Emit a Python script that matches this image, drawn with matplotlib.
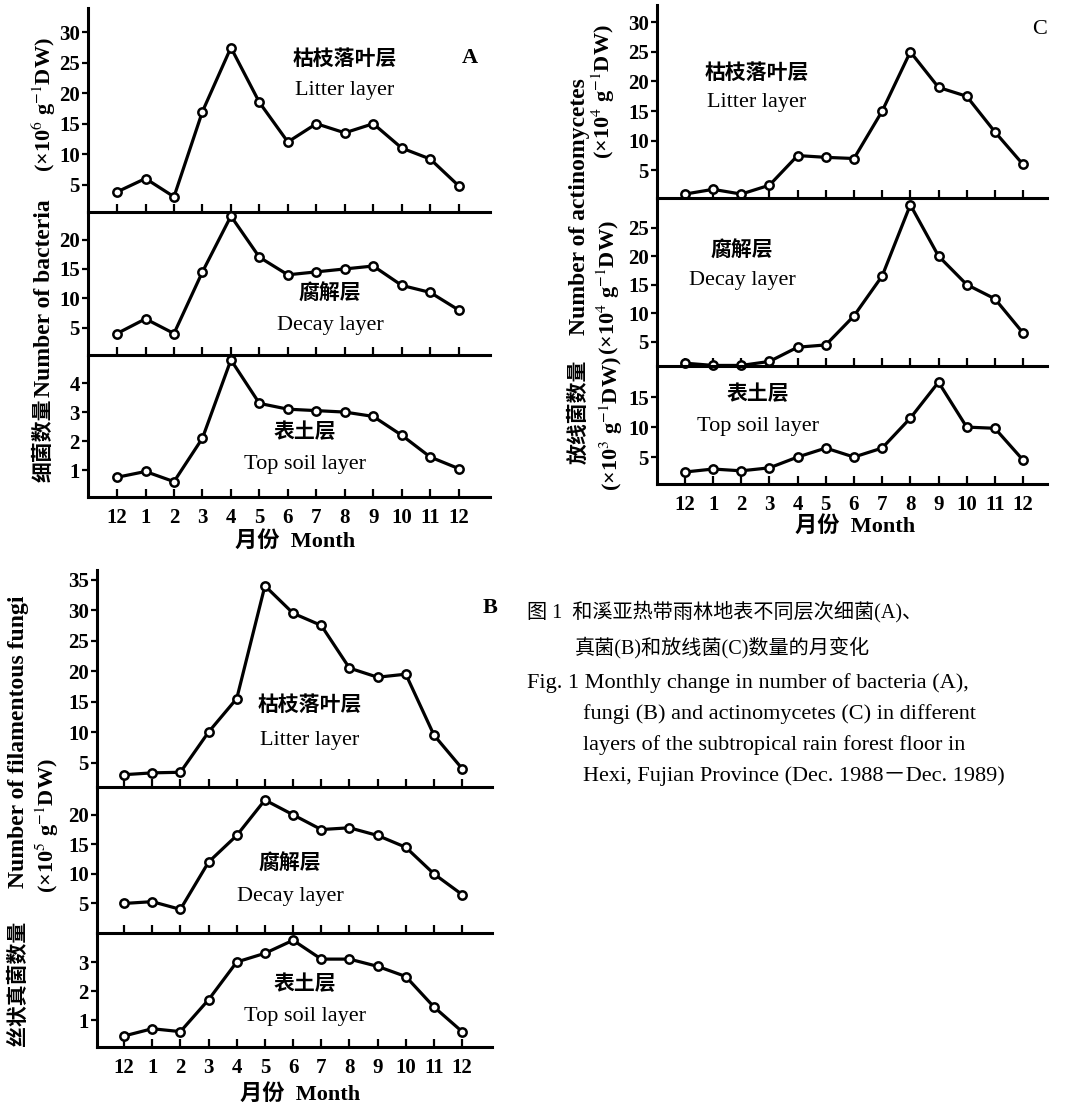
import numpy as np
import matplotlib
matplotlib.use("Agg")
import matplotlib.pyplot as plt

plt.rcParams['font.family'] = ['Liberation Serif', 'Noto Sans CJK SC', 'DejaVu Sans']
plt.rcParams['mathtext.fontset'] = 'stix'

# Data: 13 monthly samples, Dec 1988 - Dec 1989
months = ["12", "1", "2", "3", "4", "5", "6", "7", "8", "9", "10", "11", "12"]

# A: bacteria
bact_litter = [3.8, 6.0, 3.0, 17.0, 27.5, 18.5, 12.0, 15.0, 13.5, 15.0, 11.0, 9.2, 4.8]
bact_decay = [4.0, 6.5, 4.0, 14.5, 24.0, 17.0, 14.0, 14.5, 15.0, 15.5, 12.2, 11.0, 8.0]
bact_soil = [0.75, 0.95, 0.6, 2.1, 4.8, 3.3, 3.1, 3.05, 3.0, 2.85, 2.2, 1.45, 1.05]

# B: filamentous fungi
fungi_litter = [3.0, 3.3, 3.4, 10.0, 15.5, 34.0, 29.5, 27.5, 20.5, 19.0, 19.5, 9.5, 4.0]
fungi_decay = [5.0, 5.3, 4.0, 12.0, 16.5, 22.5, 20.0, 17.5, 17.8, 16.5, 14.5, 10.0, 6.5]
fungi_soil = [0.45, 0.7, 0.6, 1.7, 3.0, 3.3, 3.75, 3.1, 3.1, 2.85, 2.5, 1.45, 0.6]

# C: actinomycetes
actino_litter = [1.0, 1.8, 1.0, 2.5, 7.5, 7.2, 7.0, 15.0, 25.0, 19.0, 17.5, 11.5, 6.0]
actino_decay = [1.2, 0.8, 0.8, 1.5, 4.0, 4.4, 9.5, 16.5, 29.0, 20.0, 15.0, 12.5, 6.5]
actino_soil = [2.5, 3.0, 2.7, 3.2, 5.0, 6.5, 5.0, 6.5, 11.5, 17.5, 10.0, 9.8, 4.5]

W, H = 1086, 1107
fig = plt.figure(figsize=(W / 100, H / 100), dpi=100)
fig.patch.set_facecolor('white')


def px_axes(l, t, r, b):
    return fig.add_axes([l / W, 1 - b / H, (r - l) / W, (b - t) / H])


def px_text(x, y, s, **kw):
    kw.setdefault('ha', 'center')
    kw.setdefault('va', 'center')
    fig.text(x / W, 1 - y / H, s, **kw)


def layer(l, t, r, b, vals, xlim, ylim, yticks, bottom=False):
    ax = px_axes(l, t, r, b)
    x = np.arange(len(vals))
    ax.plot(x, vals, color='black', lw=2.3, marker='o', ms=6,
            mfc='white', mec='black', mew=1.8, clip_on=False)
    ax.set_xlim(*xlim)
    ax.set_ylim(*ylim)
    ax.set_yticks(yticks)
    ax.set_xticks(x)
    for s in ['top', 'right']:
        ax.spines[s].set_visible(False)
    for s in ['left', 'bottom']:
        ax.spines[s].set_linewidth(2.2)
    ax.tick_params(axis='x', direction='in', length=6, width=1.6, pad=8)
    ax.tick_params(axis='y', direction='out', length=4, width=1.6, pad=2)
    ax.set_yticklabels([str(v) for v in yticks], fontsize=15, fontweight='bold')
    if bottom:
        ax.set_xticklabels(months, fontsize=15, fontweight='bold')
    else:
        ax.set_xticklabels([])
    ax.patch.set_alpha(0)
    return ax


# ---- Panel A ----
xa = (-1.02, 13.1)
layer(88, 8, 490, 212, bact_litter, xa, (0.5, 34), [5, 10, 15, 20, 25, 30])
layer(88, 212, 490, 355, bact_decay, xa, (0.34, 24.7), [5, 10, 15, 20])
layer(88, 357, 490, 497, bact_soil, xa, (0.07, 4.9), [1, 2, 3, 4], bottom=True)

# ---- Panel C ----
xc = (-0.99, 12.85)
layer(657, 5, 1047, 198, actino_litter, xc, (0.34, 32.9), [5, 10, 15, 20, 25, 30])
layer(657, 198, 1047, 366, actino_decay, xc, (0.7, 30.2), [5, 10, 15, 20, 25])
layer(657, 366, 1047, 484, actino_soil, xc, (0.5, 20.2), [5, 10, 15], bottom=True)

# ---- Panel B ----
xb = (-0.96, 13.06)
layer(97, 570, 492, 787, fungi_litter, xb, (0.98, 36.6), [5, 10, 15, 20, 25, 30, 35])
layer(97, 787, 492, 933, fungi_decay, xb, (0.0, 24.7), [5, 10, 15, 20])
layer(97, 933, 492, 1047, fungi_soil, xb, (0.07, 4.0), [1, 2, 3], bottom=True)

cn = dict(fontsize=15, fontweight='bold')
en = dict(fontsize=16)

# layer names
for (x, y1, y2, c, e) in [
        (345, 60, 90, "枯枝落叶层", "Litter layer"),
        (330, 295, 325, "腐解层", "Decay layer"),
        (305, 433, 465, "表土层", "Top soil layer"),
        (757, 74, 103, "枯枝落叶层", "Litter layer"),
        (742, 252, 281, "腐解层", "Decay layer"),
        (758, 395, 427, "表土层", "Top soil layer"),
        (310, 706, 740, "枯枝落叶层", "Litter layer"),
        (290, 865, 897, "腐解层", "Decay layer"),
        (305, 985, 1017, "表土层", "Top soil layer")]:
    px_text(x, y1, c, **cn)
    px_text(x, y2, e, **en)

# panel letters
px_text(470, 58, "A", fontsize=16, fontweight='bold')
px_text(1040, 30, "C", fontsize=16)
px_text(490, 608, "B", fontsize=16, fontweight='bold')

# x labels
for (x, y) in [(295, 541), (855, 526), (300, 1094)]:
    px_text(x, y, "月份  Month", fontsize=16, fontweight='bold')

# y labels
yl = dict(fontsize=17, fontweight='bold', rotation=90)
yc = dict(fontsize=15, fontweight='bold', rotation=90)
yu = dict(fontsize=16, fontweight='bold', rotation=90)
# A
px_text(45, 440, "细菌数量", **yc)
px_text(45, 298, "Number of bacteria", **yl)
px_text(44, 105, "(×10$^{6}$ g$^{-1}$DW)", **yu)
# C
px_text(579, 412, "放线菌数量", **yc)
px_text(579, 207, "Number of actinomycetes", **yl)
px_text(603, 92, "(×10$^{4}$ g$^{-1}$DW)", **yu)
px_text(608, 288, "(×10$^{4}$ g$^{-1}$DW)", **yu)
px_text(611, 424, "(×10$^{3}$ g$^{-1}$DW)", **yu)
# B
px_text(19, 983, "丝状真菌数量", **yc)
px_text(19, 742, "Number of filamentous fungi", **yl)
px_text(47, 826, "(×10$^{5}$ g$^{-1}$DW)", **yu)

# caption
cap_cn = dict(fontsize=14.5, ha='left')
cap_en = dict(fontsize=16, ha='left')
px_text(527, 612, "图 1  和溪亚热带雨林地表不同层次细菌(A)、", **cap_cn)
px_text(575, 648, "真菌(B)和放线菌(C)数量的月变化", **cap_cn)
px_text(527, 683, "Fig. 1 Monthly change in number of bacteria (A),", **cap_en)
px_text(583, 714, "fungi (B) and actinomycetes (C) in different", **cap_en)
px_text(583, 745, "layers of the subtropical rain forest floor in", **cap_en)
px_text(583, 776, "Hexi, Fujian Province (Dec. 1988－Dec. 1989)", **cap_en)

fig.savefig("out.png", dpi=100)
